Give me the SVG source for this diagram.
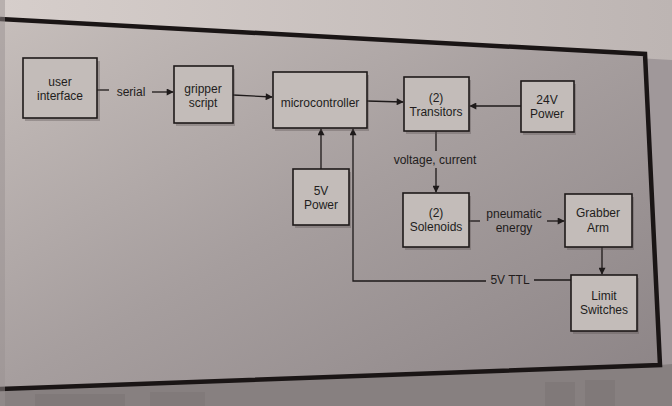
<svg xmlns="http://www.w3.org/2000/svg" width="672" height="406" viewBox="0 0 672 406">
<defs>
<linearGradient id="bgIn" x1="0" y1="0" x2="1" y2="1">
<stop offset="0" stop-color="#c6bebb"/>
<stop offset="0.5" stop-color="#a69e9e"/>
<stop offset="1" stop-color="#8c8486"/>
</linearGradient>
<linearGradient id="bgTop" x1="0" y1="0" x2="1" y2="0">
<stop offset="0" stop-color="#d6cecb"/>
<stop offset="1" stop-color="#bdb5b3"/>
</linearGradient>
<marker id="ah" viewBox="0 0 10 10" refX="9" refY="5" markerWidth="8" markerHeight="7" markerUnits="userSpaceOnUse" orient="auto">
<path d="M0,0 L10,5 L0,10 z" fill="#1e1a1a"/>
</marker>
<style>
.box{fill:#c3bcb9;stroke:#1e1a1a;stroke-width:1.6}
.sh{fill:#5a5050;opacity:0.35}
.t{font-family:"Liberation Sans",Arial,sans-serif;font-size:12px;fill:#221c1c;text-anchor:middle}
.c{fill:none;stroke:#1e1a1a;stroke-width:1.3}
</style>
</defs>
<rect width="672" height="406" fill="#8c8484"/>
<polygon points="0,0 672,0 672,406 0,406" fill="#a0989a"/>
<polygon points="0,0 672,0 672,60 0,22" fill="url(#bgTop)"/>
<polygon points="0,19 645,54 660,365 0,389" fill="url(#bgIn)"/>
<polygon points="0,389 660,365 672,364 672,406 0,406" fill="#878080"/>
<rect x="35" y="394" width="90" height="12" fill="#7c7474" opacity="0.6"/>
<rect x="150" y="392" width="55" height="14" fill="#7c7474" opacity="0.5"/>
<rect x="545" y="382" width="30" height="24" fill="#7a7272" opacity="0.5"/>
<rect x="585" y="380" width="30" height="26" fill="#7a7272" opacity="0.5"/>
<polyline points="0,19 645,54 660,365 0,389" fill="none" stroke="#1a1515" stroke-width="4.5"/>
<rect x="0" y="0" width="5" height="406" fill="#9a9292" opacity="0.5"/>

<g id="connectors">
<line class="c" x1="97" y1="90" x2="109" y2="90"/>
<line class="c" x1="152" y1="92" x2="173" y2="92" marker-end="url(#ah)"/>
<line class="c" x1="233" y1="95" x2="272" y2="97" marker-end="url(#ah)"/>
<line class="c" x1="367" y1="101" x2="403" y2="102" marker-end="url(#ah)"/>
<line class="c" x1="521" y1="106" x2="470" y2="106" marker-end="url(#ah)"/>
<line class="c" x1="321" y1="169" x2="321" y2="129" marker-end="url(#ah)"/>
<polyline class="c" points="486,281 353,281 353,129" marker-end="url(#ah)"/>
<line class="c" x1="571" y1="280" x2="534" y2="280"/>
<line class="c" x1="436" y1="131" x2="436" y2="151"/>
<line class="c" x1="436" y1="168" x2="436" y2="192" marker-end="url(#ah)"/>
<line class="c" x1="469" y1="221" x2="480" y2="221"/>
<line class="c" x1="547" y1="221" x2="564" y2="221" marker-end="url(#ah)"/>
<line class="c" x1="602" y1="247" x2="602" y2="274" marker-end="url(#ah)"/>
<text class="t" x="131" y="96">serial</text>
<text class="t" x="435" y="164">voltage, current</text>
<text class="t" x="514" y="218">pneumatic</text>
<text class="t" x="514" y="232">energy</text>
<text class="t" x="510" y="284">5V TTL</text>
</g>

<g id="user-interface">
<rect class="sh" x="25" y="61" width="75" height="60"/>
<rect class="box" x="23" y="58" width="74" height="60"/>
<text class="t" x="60" y="86">user</text>
<text class="t" x="60" y="100">interface</text>
</g>
<g id="gripper-script">
<rect class="sh" x="176" y="69" width="59" height="57"/>
<rect class="box" x="174" y="66" width="59" height="57"/>
<text class="t" x="203" y="93">gripper</text>
<text class="t" x="203" y="107">script</text>
</g>
<g id="microcontroller">
<rect class="sh" x="275" y="75" width="94" height="56"/>
<rect class="box" x="273" y="72" width="94" height="56"/>
<text class="t" x="320" y="107">microcontroller</text>
</g>
<g id="transitors">
<rect class="sh" x="406" y="80" width="65" height="54"/>
<rect class="box" x="404" y="77" width="65" height="54"/>
<text class="t" x="436" y="102">(2)</text>
<text class="t" x="436" y="116">Transitors</text>
</g>
<g id="power-24v">
<rect class="sh" x="523" y="84" width="53" height="51"/>
<rect class="box" x="521" y="81" width="53" height="51"/>
<text class="t" x="547" y="104">24V</text>
<text class="t" x="547" y="118">Power</text>
</g>
<g id="power-5v">
<rect class="sh" x="295" y="172" width="56" height="56"/>
<rect class="box" x="293" y="169" width="56" height="56"/>
<text class="t" x="321" y="195">5V</text>
<text class="t" x="321" y="209">Power</text>
</g>
<g id="solenoids">
<rect class="sh" x="405" y="196" width="66" height="54"/>
<rect class="box" x="403" y="193" width="66" height="54"/>
<text class="t" x="436" y="217">(2)</text>
<text class="t" x="436" y="231">Solenoids</text>
</g>
<g id="grabber-arm">
<rect class="sh" x="567" y="197" width="67" height="53"/>
<rect class="box" x="565" y="194" width="67" height="53"/>
<text class="t" x="598" y="217">Grabber</text>
<text class="t" x="598" y="232">Arm</text>
</g>
<g id="limit-switches">
<rect class="sh" x="573" y="278" width="66" height="56"/>
<rect class="box" x="571" y="275" width="66" height="56"/>
<text class="t" x="604" y="300">Limit</text>
<text class="t" x="604" y="314">Switches</text>
</g>
</svg>
